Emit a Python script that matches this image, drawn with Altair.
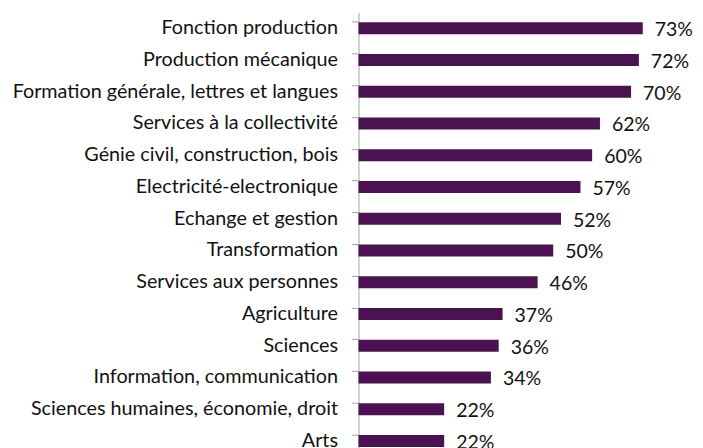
import altair as alt
import pandas as pd

categories = [
    "Fonction production",
    "Production mécanique",
    "Formation générale, lettres et langues",
    "Services à la collectivité",
    "Génie civil, construction, bois",
    "Electricité-electronique",
    "Echange et gestion",
    "Transformation",
    "Services aux personnes",
    "Agriculture",
    "Sciences",
    "Information, communication",
    "Sciences humaines, économie, droit",
    "Arts",
]
values = [0.73, 0.72, 0.70, 0.62, 0.60, 0.57, 0.52, 0.50, 0.46, 0.37, 0.36, 0.34, 0.22, 0.22]

df = pd.DataFrame({"cat": categories, "val": values})

FONT = "Lato"
band = 31.8
full = band * len(categories)

y = alt.Y(
    "cat:N",
    sort=categories,
    title=None,
    scale=alt.Scale(range=[0, full], paddingInner=0.62, paddingOuter=0.31),
    axis=alt.Axis(
        domainColor="#a6a6a6",
        tickColor="#a6a6a6",
        tickSize=7,
        bandPosition=0,
        labelPadding=14,
        labelFontSize=19.8,
        labelFont=FONT,
        labelColor="#111111",
        labelLimit=400,
    ),
)
x = alt.X("val:Q", axis=None, scale=alt.Scale(domain=[0, 0.8], nice=False))

bars = alt.Chart(df).mark_bar(color="#4A1250", size=12).encode(x=x, y=y)
texts = alt.Chart(df).mark_text(
    align="left", baseline="middle", dx=12, dy=2, fontSize=19.5, font=FONT, color="#111111"
).encode(x=x, y=y, text=alt.Text("val:Q", format=".0%"))

chart = (
    alt.layer(bars, texts)
    .properties(
        width=312,
        height=436,
        autosize=alt.AutoSizeParams(type="none"),
        padding={"left": 351, "top": 4, "right": 25, "bottom": 0},
    )
    .configure_view(stroke=None)
)

chart.save("out.html", embed_options={"renderer": "svg", "actions": False})
